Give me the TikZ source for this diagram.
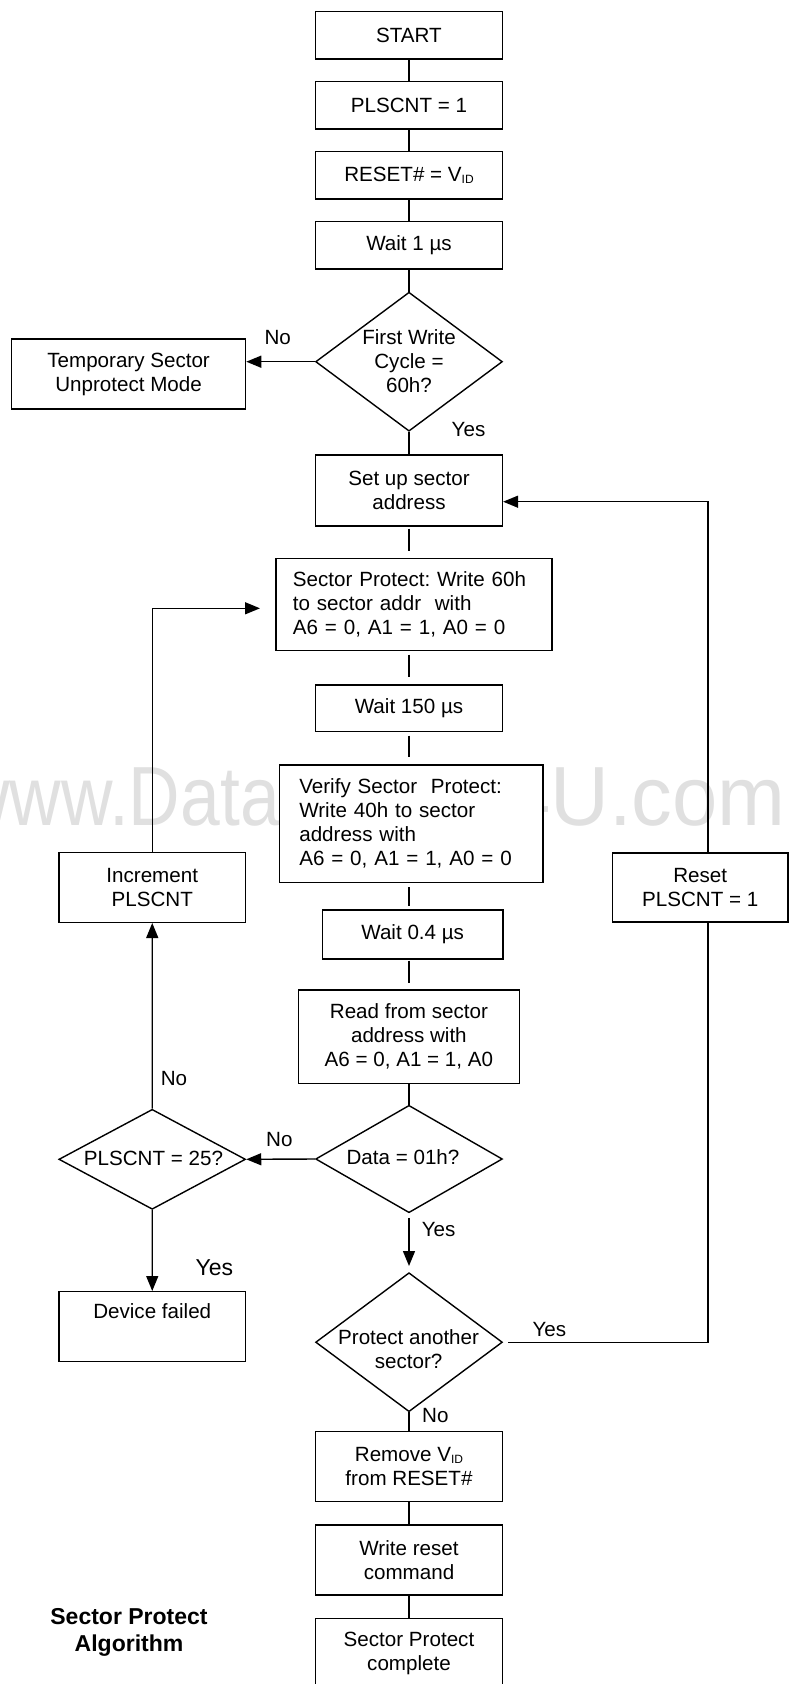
\documentclass[tikz,border=0pt]{standalone}
\usepackage{fontspec}
\setmainfont{Liberation Sans}
\usepackage{graphicx}
\usetikzlibrary{arrows.meta,shapes.geometric,calc}
\definecolor{wm}{RGB}{224,224,224}
\newcommand{\vid}{V\raisebox{-1.5pt}{\fontsize{12}{12}\selectfont ID}}
\frenchspacing
\begin{document}
\frenchspacing
\begin{tikzpicture}[x=1pt,y=-1pt,
  every node/.style={font=\fontsize{20.6}{24}\selectfont\frenchspacing},
  box/.style={draw, fill=white, rectangle, inner sep=0pt, align=center, line width=1.4pt},
  dia/.style={draw, fill=white, diamond, inner sep=0pt, line width=1.4pt},
  conn/.style={line width=1.4pt},
  arr/.style={conn, -{Triangle[length=15pt,width=12pt]}},
  lbl/.style={inner sep=0pt},
  wmark/.style={anchor=base east, inner sep=0pt, text=wm, font=\fontsize{84}{84}\selectfont}]
\useasboundingbox (0,0) rectangle (789,1684);
\clip (0,0) rectangle (789,1684);
% watermark
\node[wmark] (wm1) at (280,825) {\scalebox{0.85}[1]{www.Data}};
\node[wmark] (wm2) at (786,825) {\scalebox{0.97}[1]{Sheet4U.com}};
% center column boxes
\node[box, minimum width=186.8pt, minimum height=47.3pt] (start) at (409,35.35) {START};
\node[box, minimum width=186.8pt, minimum height=47.3pt] (pls1) at (409,105.35) {PLSCNT = 1};
\node[box, minimum width=186.8pt, minimum height=47.3pt] (rst) at (409,175.35) {RESET\# = \vid};
\node[box, minimum width=186.8pt, minimum height=47.3pt] (wait1) at (409,245.35) {Wait 1 µs};
\node[dia, minimum width=186.8pt, minimum height=139pt] (d1) at (409,361.7) {};
\node[align=center, inner sep=0pt] (d1t) at (409,361) {First Write\\Cycle =\\60h?};
\node[box, minimum width=234pt, minimum height=70pt] (temp) at (128.6,374) {Temporary Sector\\Unprotect Mode};
\node[box, minimum width=186.8pt, minimum height=71pt] (setup) at (409,490.5) {Set up sector\\address};
\node[box, minimum height=92.4pt, text width=242pt, inner xsep=17.1pt, align=left] (sp) at (413.9,604.5) {Sector Protect: Write 60h\\to sector addr\ \ with\\A6 = 0, A1 = 1, A0 = 0};
\node[box, minimum width=186.8pt, minimum height=46.7pt] (wait150) at (409,708.35) {Wait 150 µs};
\node[box, minimum height=117.3pt, text width=223.7pt, inner xsep=20pt, align=left] (verify) at (411.15,823.65) {Verify Sector\ \ Protect:\\Write 40h to sector\\address with\\A6 = 0, A1 = 1, A0 = 0};
\node[box, minimum width=180.2pt, minimum height=49pt] (wait04) at (412.7,934.5) {Wait 0.4 µs};
\node[box, minimum width=221pt, minimum height=93.3pt] (read) at (408.9,1036.65) {Read from sector\\address with\\A6 = 0, A1 = 1, A0};
\node[dia, minimum width=186.8pt, minimum height=107.4pt] (data) at (409,1159) {};
\node[inner sep=0pt] (datat) at (403,1157) {Data = 01h?};
\node[dia, minimum width=186.7pt, minimum height=100pt] (p25) at (152.2,1159.3) {};
\node[inner sep=0pt] (p25t) at (153.5,1158.3) {PLSCNT = 25?};
\node[box, minimum width=186.7pt, minimum height=70pt] (incr) at (152.25,887.3) {Increment\\PLSCNT};
\node[box, minimum width=175.5pt, minimum height=69pt] (reset) at (700.25,887.5) {Reset\\PLSCNT = 1};
\node[box, minimum width=186.7pt, minimum height=70pt] (fail) at (152.25,1326.7) {Device failed\\\strut};
\node[dia, minimum width=186.8pt, minimum height=139pt] (prot) at (409,1342.2) {};
\node[align=center, inner sep=0pt] (prott) at (408.6,1349) {Protect another\\sector?};
\node[box, minimum width=186.8pt, minimum height=70pt] (remove) at (409,1466.7) {Remove \vid\\from RESET\#};
\node[box, minimum width=186.8pt, minimum height=70pt] (wrst) at (409,1560) {Write reset\\command};
\node[box, minimum width=186.8pt, minimum height=70pt] (done) at (409,1653.3) {Sector Protect\\complete};
\node[align=center, inner sep=0pt, font=\fontsize{23}{27}\selectfont\bfseries] (cap) at (129,1632.5) {Sector Protect\\Algorithm};
% coordinates
\coordinate (spin) at (260,608.3);
\coordinate (rx) at (708,0);
% connectors
\draw[conn] (start) -- (pls1);
\draw[conn] (pls1) -- (rst);
\draw[conn] (rst) -- (wait1);
\draw[conn] (wait1) -- (d1.north);
\draw[arr] (d1.west) -- (d1.west -| temp.east);
\draw[conn] (d1.south) -- (setup.north);
\draw[conn, shorten <=2pt, shorten >=6.6pt] (setup.south) -- (setup.south |- sp.north);
\draw[conn, shorten <=3.3pt, shorten >=7pt] (sp.south -| wait150.north) -- (wait150.north);
\draw[conn, shorten <=3.3pt, shorten >=7pt] (wait150.south) -- (wait150.south |- verify.north);
\draw[conn, shorten <=4.4pt, shorten >=3.3pt] (verify.south -| wait150.south) -- (wait150.south |- wait04.north);
\draw[conn, shorten <=1pt, shorten >=6.7pt] (wait04.south -| read.north) -- (read.north);
\draw[conn] (read.south -| data.north) -- (data.north);
\draw[arr] (data.west) -- (p25.east);
\draw[arr] (p25.north) -- (incr.south);
\draw[arr] (incr.north) |- (spin);
\draw[arr] (p25.south) -- (fail.north);
\draw[arr, shorten <=4.4pt, shorten >=6pt] (data.south) -- (prot.north);
\draw[conn, shorten <=5pt] (prot.east) -- (prot.east -| rx) -- (reset.south -| rx);
\draw[arr] (reset.north -| rx) |- ([yshift=-11.2pt]setup.east);
\draw[conn] (prot.south) -- (remove.north);
\draw[conn] (remove) -- (wrst);
\draw[conn] (wrst) -- (done);
% labels
\node[lbl] (l1) at (277.7,337.5) {No};
\node[lbl] (l2) at (468.5,429.5) {Yes};
\node[lbl] (l3) at (279.3,1139) {No};
\node[lbl] (l4) at (174,1078.3) {No};
\node[lbl] (l5) at (438.6,1229) {Yes};
\node[lbl, font=\fontsize{23}{27}\selectfont] (l6) at (214.3,1267.7) {Yes};
\node[lbl] (l7) at (549.3,1329) {Yes};
\node[lbl] (l8) at (435.4,1415.5) {No};
\end{tikzpicture}
\end{document}
